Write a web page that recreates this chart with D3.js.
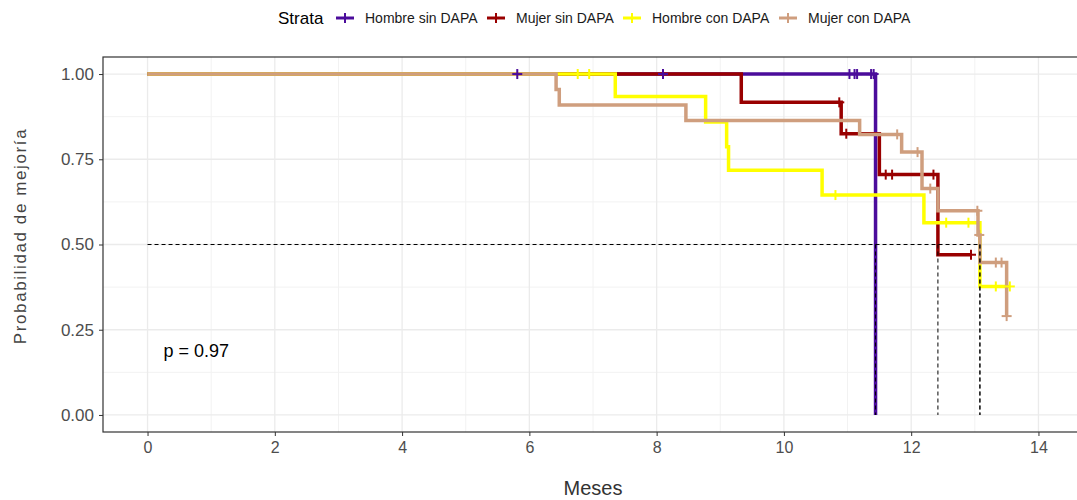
<!DOCTYPE html>
<html>
<head>
<meta charset="utf-8">
<script src="https://cdn.jsdelivr.net/npm/d3@7"></script>
<style>
  body { margin: 0; background: #fff; }
  svg { display: block; font-family: "Liberation Sans", Arial, sans-serif; }
</style>
</head>
<body>
<svg id="chart" width="1077" height="500"></svg>
<script>
// strata
const strataNames = ["Hombre sin DAPA", "Mujer sin DAPA", "Hombre con DAPA", "Mujer con DAPA"];
const strataColors = ["#4B0C9B", "#990000", "#FFFF00", "#CF9E7E"];

// step points (time, survival) per stratum, last point = end of follow-up
const hsdTimes = [0, 11.44, 11.44];
const hsdSurv  = [1, 0, 0];
const hsdCensTimes = [5.81, 8.1, 11.03, 11.11, 11.15, 11.37, 11.41];
const hsdCensSurv  = [1, 1, 1, 1, 1, 1, 1];

const msdTimes = [0, 9.33, 10.9, 11.5, 12.42, 12.94];
const msdSurv  = [1, 0.917, 0.825, 0.705, 0.47, 0.47];
const msdCensTimes = [10.87, 10.98, 11.6, 11.7, 12.35, 12.94];
const msdCensSurv  = [0.917, 0.825, 0.705, 0.705, 0.705, 0.47];

const hcdTimes = [0, 7.35, 8.77, 9.1, 9.13, 10.6, 12.2, 13.08, 13.55];
const hcdSurv  = [1, 0.934, 0.859, 0.787, 0.718, 0.645, 0.564, 0.377, 0.377];
const hcdCensTimes = [6.76, 6.94, 10.81, 12.55, 12.9, 13.33, 13.55];
const hcdCensSurv  = [1, 1, 0.645, 0.564, 0.564, 0.377, 0.377];

const mcdTimes = [0, 6.42, 6.47, 8.46, 11.19, 11.85, 12.17, 12.42, 13.05, 13.08, 13.5];
const mcdSurv  = [1, 0.955, 0.909, 0.864, 0.823, 0.771, 0.664, 0.599, 0.528, 0.447, 0.29];
const mcdCensTimes = [11.78, 12.1, 12.3, 13.04, 13.07, 13.33, 13.42, 13.5];
const mcdCensSurv  = [0.823, 0.771, 0.664, 0.599, 0.528, 0.447, 0.447, 0.29];

const xTicks = [0, 2, 4, 6, 8, 10, 12, 14];
const yTicks = [0, 0.25, 0.5, 0.75, 1];
const pText = "p = 0.97";

const strata = [
    { times: hsdTimes, surv: hsdSurv, ct: hsdCensTimes, cs: hsdCensSurv },
    { times: msdTimes, surv: msdSurv, ct: msdCensTimes, cs: msdCensSurv },
    { times: hcdTimes, surv: hcdSurv, ct: hcdCensTimes, cs: hcdCensSurv },
    { times: mcdTimes, surv: mcdSurv, ct: mcdCensTimes, cs: mcdCensSurv }
];

const svg = d3.select("#chart");
const panel = { left: 103, top: 57, right: 1083, bottom: 432 };

const x = d3.scaleLinear().domain([-0.7, 14.7]).range([panel.left, panel.right]);
const y = d3.scaleLinear().domain([-0.05, 1.05]).range([panel.bottom, panel.top]);

// grid
const grid = svg.append("g");
d3.range(1, 15, 2).forEach(v => {
    grid.append("line")
        .attr("x1", x(v)).attr("x2", x(v))
        .attr("y1", panel.top).attr("y2", panel.bottom)
        .attr("stroke", "#F2F2F2").attr("stroke-width", 1);
});
[0.125, 0.375, 0.625, 0.875].forEach(v => {
    grid.append("line")
        .attr("x1", panel.left).attr("x2", panel.right)
        .attr("y1", y(v)).attr("y2", y(v))
        .attr("stroke", "#F2F2F2").attr("stroke-width", 1);
});
xTicks.forEach(v => {
    grid.append("line")
        .attr("x1", x(v)).attr("x2", x(v))
        .attr("y1", panel.top).attr("y2", panel.bottom)
        .attr("stroke", "#EBEBEB").attr("stroke-width", 1.3);
});
yTicks.forEach(v => {
    grid.append("line")
        .attr("x1", panel.left).attr("x2", panel.right)
        .attr("y1", y(v)).attr("y2", y(v))
        .attr("stroke", "#EBEBEB").attr("stroke-width", 1.3);
});

// curves
const stepLine = d3.line().curve(d3.curveStepAfter);
strata.forEach((s, i) => {
    const pts = s.times.map((t, k) => [x(t), y(s.surv[k])]);
    svg.append("path")
        .attr("d", stepLine(pts))
        .attr("fill", "none")
        .attr("stroke", strataColors[i])
        .attr("stroke-width", 3.5);
});

// censor marks
function plus(g, cx, cy, color, size) {
    g.append("line").attr("x1", cx - size).attr("x2", cx + size)
        .attr("y1", cy).attr("y2", cy).attr("stroke", color).attr("stroke-width", 2);
    g.append("line").attr("x1", cx).attr("x2", cx)
        .attr("y1", cy - size).attr("y2", cy + size).attr("stroke", color).attr("stroke-width", 2);
}
strata.forEach((s, i) => {
    const g = svg.append("g");
    s.ct.forEach((t, k) => plus(g, x(t), y(s.cs[k]), strataColors[i], 5));
});

// median lines
const medians = strata.map(s => {
    const k = s.surv.findIndex(v => v <= 0.5);
    return k < 0 ? null : s.times[k];
}).filter(m => m !== null);
const maxMed = d3.max(medians);
svg.append("line")
    .attr("x1", x(0)).attr("x2", x(maxMed))
    .attr("y1", y(0.5)).attr("y2", y(0.5))
    .attr("stroke", "#000").attr("stroke-width", 1).attr("stroke-dasharray", "4,3");
medians.forEach(m => {
    svg.append("line")
        .attr("x1", x(m)).attr("x2", x(m))
        .attr("y1", y(0.5)).attr("y2", y(0))
        .attr("stroke", "#000").attr("stroke-width", 1).attr("stroke-dasharray", "4,3");
});

// p value
svg.append("text")
    .attr("x", x(0.25)).attr("y", y(0.17))
    .attr("font-size", 18).attr("fill", "#000")
    .text(pText);

// panel border
svg.append("rect")
    .attr("x", panel.left).attr("y", panel.top)
    .attr("width", panel.right - panel.left).attr("height", panel.bottom - panel.top)
    .attr("fill", "none").attr("stroke", "#333").attr("stroke-width", 1.2);

// axes
const xAxis = svg.append("g")
    .attr("transform", `translate(0,${panel.bottom})`)
    .call(d3.axisBottom(x).tickValues(xTicks).tickFormat(d3.format("d")).tickSize(4).tickPadding(6));
const yAxis = svg.append("g")
    .attr("transform", `translate(${panel.left},0)`)
    .call(d3.axisLeft(y).tickValues(yTicks).tickFormat(d3.format(".2f")).tickSize(4).tickPadding(5));
[xAxis, yAxis].forEach(a => {
    a.select(".domain").remove();
    a.selectAll(".tick line").attr("stroke", "#333");
    a.selectAll(".tick text")
        .attr("fill", "#4D4D4D")
        .attr("font-family", "Liberation Sans, Arial, sans-serif");
});
xAxis.selectAll(".tick text").attr("font-size", 16);
yAxis.selectAll(".tick text").attr("font-size", 17);

svg.append("text")
    .attr("x", x(7)).attr("y", 495)
    .attr("text-anchor", "middle")
    .attr("font-size", 20).attr("fill", "#333")
    .text("Meses");

svg.append("text")
    .attr("transform", "translate(26,236) rotate(-90)")
    .attr("text-anchor", "middle")
    .attr("font-size", 17).attr("fill", "#444")
    .attr("letter-spacing", 1.6)
    .text("Probabilidad de mejoría");

// legend
const legend = svg.append("g");
legend.append("text")
    .attr("x", 278).attr("y", 24)
    .attr("font-size", 17).attr("fill", "#000")
    .text("Strata");
const legendX = [345, 496, 632, 788];
strataNames.forEach((name, i) => {
    const cx = legendX[i];
    legend.append("line")
        .attr("x1", cx - 9).attr("x2", cx + 9)
        .attr("y1", 18).attr("y2", 18)
        .attr("stroke", strataColors[i]).attr("stroke-width", 3);
    legend.append("line")
        .attr("x1", cx).attr("x2", cx)
        .attr("y1", 13).attr("y2", 23)
        .attr("stroke", strataColors[i]).attr("stroke-width", 2);
    legend.append("text")
        .attr("x", cx + 20).attr("y", 23)
        .attr("font-size", 14).attr("fill", "#1A1A1A")
        .text(name);
});
</script>
</body>
</html>
